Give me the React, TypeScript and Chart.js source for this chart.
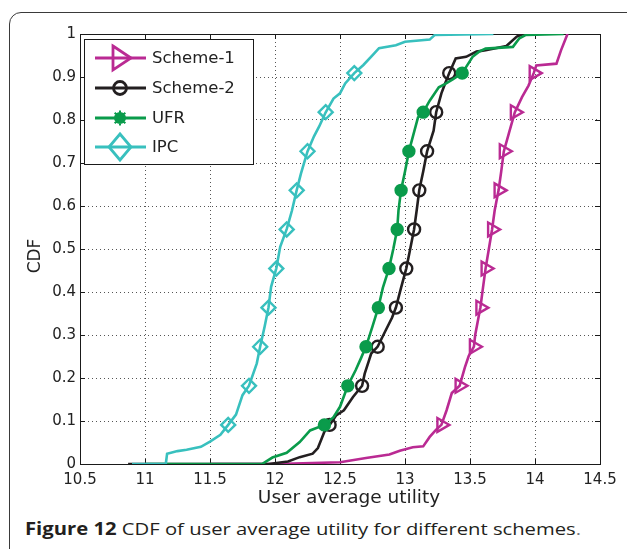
import React, { useEffect, useRef } from "react";
import { Chart, registerables } from "chart.js";

Chart.register(...registerables);

// ---------- data ----------
const xTicks = [10.5, 11, 11.5, 12, 12.5, 13, 13.5, 14, 14.5];
const yTicks = [0, 0.1, 0.2, 0.3, 0.4, 0.5, 0.6, 0.7, 0.8, 0.9, 1];

const legendNames = ["Scheme-1", "Scheme-2", "UFR", "IPC"];
const xTitle = "User average utility";
const yTitle = "CDF";

const scheme1Line: [number, number][] = [
  [11.5, 0], [12.0, 0], [12.5, 0.004], [12.7, 0.014], [12.88, 0.022], [12.96, 0.031],
  [13.06, 0.039], [13.14, 0.041], [13.19, 0.063], [13.24, 0.08], [13.28, 0.091],
  [13.32, 0.125], [13.36, 0.165], [13.42, 0.182], [13.46, 0.224], [13.49, 0.251],
  [13.53, 0.273], [13.54, 0.3], [13.57, 0.348], [13.58, 0.364], [13.6, 0.41],
  [13.62, 0.455], [13.645, 0.5], [13.67, 0.546], [13.69, 0.59], [13.72, 0.637],
  [13.74, 0.68], [13.76, 0.727], [13.8, 0.77], [13.845, 0.818], [13.9, 0.853],
  [13.95, 0.88], [13.99, 0.909], [14.01, 0.927], [14.165, 0.931], [14.2, 0.962],
  [14.25, 1.0],
];
const scheme1Marks: [number, number][] = [
  [13.28, 0.0909], [13.42, 0.1818], [13.53, 0.2727], [13.58, 0.3636], [13.62, 0.4545],
  [13.67, 0.5455], [13.72, 0.6364], [13.76, 0.7273], [13.845, 0.8182], [13.99, 0.9091],
];

const scheme2Line: [number, number][] = [
  [10.87, 0], [11.95, 0], [12.1, 0.006], [12.19, 0.016], [12.29, 0.024], [12.33, 0.037],
  [12.36, 0.06], [12.38, 0.075], [12.42, 0.091], [12.47, 0.113], [12.53, 0.125],
  [12.6, 0.156], [12.67, 0.182], [12.69, 0.21], [12.72, 0.238], [12.74, 0.257],
  [12.79, 0.273], [12.85, 0.31], [12.9, 0.34], [12.93, 0.364], [12.97, 0.41],
  [13.01, 0.455], [13.04, 0.5], [13.07, 0.546], [13.09, 0.59], [13.11, 0.637],
  [13.14, 0.68], [13.17, 0.727], [13.22, 0.775], [13.24, 0.818], [13.28, 0.862],
  [13.31, 0.886], [13.34, 0.909], [13.39, 0.943], [13.47, 0.947], [13.55, 0.959],
  [13.62, 0.962], [13.78, 0.972], [13.86, 0.994], [13.91, 1.0], [14.0, 1.0],
];
const scheme2Marks: [number, number][] = [
  [12.42, 0.0909], [12.67, 0.1818], [12.79, 0.2727], [12.93, 0.3636], [13.01, 0.4545],
  [13.07, 0.5455], [13.11, 0.6364], [13.17, 0.7273], [13.24, 0.8182], [13.34, 0.9091],
];

const ufrLine: [number, number][] = [
  [11.0, 0], [11.9, 0], [11.98, 0.015], [12.09, 0.026], [12.19, 0.051], [12.27, 0.078],
  [12.38, 0.091], [12.45, 0.109], [12.5, 0.133], [12.56, 0.182], [12.62, 0.218],
  [12.66, 0.245], [12.7, 0.273], [12.75, 0.32], [12.795, 0.364], [12.83, 0.41],
  [12.877, 0.455], [12.91, 0.5], [12.94, 0.546], [12.95, 0.59], [12.97, 0.637],
  [13.0, 0.68], [13.03, 0.727], [13.1, 0.806], [13.14, 0.818], [13.19, 0.845],
  [13.26, 0.876], [13.31, 0.884], [13.37, 0.895], [13.44, 0.909], [13.52, 0.947],
  [13.57, 0.959], [13.62, 0.966], [13.83, 0.97], [13.88, 0.99], [13.93, 0.998],
  [14.22, 1.0],
];
const ufrMarks: [number, number][] = [
  [12.38, 0.0909], [12.56, 0.1818], [12.7, 0.2727], [12.795, 0.3636], [12.877, 0.4545],
  [12.94, 0.5455], [12.97, 0.6364], [13.03, 0.7273], [13.14, 0.8182], [13.44, 0.9091],
];

const ipcLine: [number, number][] = [
  [10.9, 0], [11.16, 0], [11.17, 0.024], [11.25, 0.03], [11.32, 0.033], [11.43, 0.04],
  [11.5, 0.052], [11.58, 0.068], [11.64, 0.091], [11.7, 0.115], [11.75, 0.16],
  [11.8, 0.182], [11.86, 0.234], [11.886, 0.273], [11.92, 0.319], [11.95, 0.364],
  [11.97, 0.412], [12.01, 0.455], [12.04, 0.505], [12.09, 0.546], [12.13, 0.589],
  [12.167, 0.637], [12.2, 0.676], [12.25, 0.727], [12.3, 0.762], [12.34, 0.785],
  [12.39, 0.818], [12.45, 0.85], [12.5, 0.862], [12.54, 0.885], [12.61, 0.909],
  [12.68, 0.928], [12.76, 0.954], [12.8, 0.967], [12.93, 0.974], [13.0, 0.982],
  [13.19, 0.987], [13.23, 0.998], [13.68, 1.0],
];
const ipcMarks: [number, number][] = [
  [11.64, 0.0909], [11.8, 0.1818], [11.886, 0.2727], [11.95, 0.3636], [12.01, 0.4545],
  [12.09, 0.5455], [12.167, 0.6364], [12.25, 0.7273], [12.39, 0.8182], [12.61, 0.9091],
];

const MAGENTA = "#BA2A93";
const BLACK = "#231F20";
const GREEN = "#0A9B4B";
const CYAN = "#38C0BE";

const FONT = "'DejaVu Sans', Arial, sans-serif";

const toPts = (arr: [number, number][]) => arr.map(([x, y]) => ({ x, y }));

const fmt = (v: number) => String(Number(v.toFixed(1)));

function drawLegendMarker(ctx: CanvasRenderingContext2D, kind: string, x: number, y: number, color: string) {
  ctx.save();
  ctx.strokeStyle = color;
  ctx.fillStyle = color;
  ctx.lineWidth = 2.8;
  ctx.beginPath();
  if (kind === "tri") {
    ctx.moveTo(x - 7, y - 12);
    ctx.lineTo(x + 11, y);
    ctx.lineTo(x - 7, y + 12);
    ctx.closePath();
    ctx.stroke();
  } else if (kind === "circle") {
    ctx.arc(x, y, 6.5, 0, Math.PI * 2);
    ctx.stroke();
  } else if (kind === "star") {
    ctx.arc(x, y, 5, 0, Math.PI * 2);
    ctx.fill();
    ctx.lineWidth = 2;
    for (let i = 0; i < 8; i++) {
      const a = (i * Math.PI) / 4;
      ctx.moveTo(x, y);
      ctx.lineTo(x + Math.cos(a) * 7.5, y + Math.sin(a) * 7.5);
    }
    ctx.stroke();
  } else if (kind === "diamond") {
    ctx.moveTo(x, y - 13);
    ctx.lineTo(x + 11, y);
    ctx.lineTo(x, y + 13);
    ctx.lineTo(x - 11, y);
    ctx.closePath();
    ctx.stroke();
  }
  ctx.restore();
}

const framePlugin = {
  id: "matlabFrame",
  beforeDatasetsDraw(chart: any) {
    const { ctx, chartArea: a, scales } = chart;
    ctx.save();
    ctx.strokeStyle = "#1a1a1a";
    ctx.lineWidth = 1;
    ctx.strokeRect(Math.round(a.left) + 0.5, Math.round(a.top) + 0.5, Math.round(a.right - a.left), Math.round(a.bottom - a.top));
    ctx.beginPath();
    for (const t of xTicks) {
      const px = Math.round(scales.x.getPixelForValue(t)) + 0.5;
      ctx.moveTo(px, a.bottom);
      ctx.lineTo(px, a.bottom - 5);
      ctx.moveTo(px, a.top);
      ctx.lineTo(px, a.top + 5);
    }
    for (const t of yTicks) {
      const py = Math.round(scales.y.getPixelForValue(t)) + 0.5;
      ctx.moveTo(a.left, py);
      ctx.lineTo(a.left + 5, py);
      ctx.moveTo(a.right, py);
      ctx.lineTo(a.right - 5, py);
    }
    ctx.stroke();
    ctx.restore();
  },
  afterDraw(chart: any) {
    const { ctx, chartArea: a } = chart;
    ctx.save();
    ctx.fillStyle = "#222";
    ctx.font = `18.5px ${FONT}`;
    ctx.textAlign = "center";
    ctx.textBaseline = "alphabetic";
    ctx.fillText(xTitle, (a.left + a.right) / 2 + 9, 503);
    ctx.translate(40, (a.top + a.bottom) / 2 + 7);
    ctx.rotate(-Math.PI / 2);
    ctx.font = `17px ${FONT}`;
    ctx.fillText(yTitle, 0, 0);
    ctx.restore();
  },
};

const legendPlugin = {
  id: "insideLegend",
  afterDraw(chart: any) {
    const { ctx } = chart;
    const colors = [MAGENTA, BLACK, GREEN, CYAN];
    const kinds = ["tri", "circle", "star", "diamond"];
    const rows = [58, 88, 118, 147];
    ctx.save();
    ctx.fillStyle = "#ffffff";
    ctx.fillRect(84.5, 39.5, 169, 125);
    ctx.strokeStyle = "#1a1a1a";
    ctx.lineWidth = 1;
    ctx.strokeRect(84.5, 39.5, 169, 125);
    legendNames.forEach((name, i) => {
      const y = rows[i];
      ctx.strokeStyle = colors[i];
      ctx.lineWidth = 3;
      ctx.beginPath();
      ctx.moveTo(95, y);
      ctx.lineTo(146, y);
      ctx.stroke();
      drawLegendMarker(ctx, kinds[i], 120, y, colors[i]);
      ctx.fillStyle = "#222";
      ctx.font = `16.5px ${FONT}`;
      ctx.textBaseline = "middle";
      ctx.textAlign = "left";
      ctx.fillText(name, 152, y + 1);
    });
    ctx.restore();
  },
};

function lineDs(points: [number, number][], color: string) {
  return {
    data: toPts(points),
    showLine: true,
    borderColor: color,
    borderWidth: 2.6,
    pointRadius: 0,
    tension: 0,
    fill: false,
  };
}

function markDs(points: [number, number][], color: string, style: string, radius: number, filled: boolean, rotation = 0) {
  return {
    data: toPts(points),
    showLine: false,
    pointStyle: style,
    pointRadius: radius,
    pointRotation: rotation,
    pointBorderWidth: 2.4,
    pointBorderColor: color,
    pointBackgroundColor: filled ? color : "rgba(0,0,0,0)",
  };
}

export default function App() {
  const ref = useRef<HTMLCanvasElement | null>(null);

  useEffect(() => {
    if (!ref.current) return;
    const chart = new Chart(ref.current, {
      type: "scatter",
      data: {
        datasets: [
          markDs(ipcMarks, CYAN, "rectRot", 7, false),
          lineDs(ipcLine, CYAN),
          markDs(ufrMarks, GREEN, "circle", 5.5, true),
          lineDs(ufrLine, GREEN),
          markDs(scheme2Marks, BLACK, "circle", 6, false),
          lineDs(scheme2Line, BLACK),
          markDs(scheme1Marks, MAGENTA, "triangle", 8, false, 90),
          lineDs(scheme1Line, MAGENTA),
        ] as any,
      },
      options: {
        responsive: false,
        animation: false,
        devicePixelRatio: 1,
        layout: { padding: { left: 0, right: 27, top: 34, bottom: 0 } },
        plugins: { legend: { display: false }, tooltip: { enabled: false } },
        scales: {
          x: {
            type: "linear",
            min: 10.5,
            max: 14.5,
            afterBuildTicks: (s: any) => {
              s.ticks = xTicks.map((v) => ({ value: v }));
            },
            afterFit: (s: any) => {
              s.height = 46;
            },
            ticks: {
              autoSkip: false,
              maxRotation: 0,
              padding: 7,
              color: "#222",
              font: { family: FONT, size: 15 },
              callback: (v: any) => fmt(Number(v)),
            },
            grid: { color: "#555", lineWidth: 1, drawTicks: false },
            border: { display: false, dash: [1, 3] },
            title: { display: false },
          },
          y: {
            type: "linear",
            min: 0,
            max: 1,
            afterBuildTicks: (s: any) => {
              s.ticks = yTicks.map((v) => ({ value: v }));
            },
            afterFit: (s: any) => {
              s.width = 80;
            },
            ticks: {
              autoSkip: false,
              padding: 4,
              color: "#222",
              font: { family: FONT, size: 15 },
              callback: (v: any) => fmt(Number(v)),
            },
            grid: { color: "#555", lineWidth: 1, drawTicks: false },
            border: { display: false, dash: [1, 3] },
            title: { display: false },
          },
        },
      } as any,
      plugins: [framePlugin, legendPlugin],
    });
    return () => chart.destroy();
  }, []);

  return (
    <div style={{ position: "fixed", left: 0, top: 0, width: 627, height: 549, overflow: "hidden", background: "#fff" }}>
      <div
        style={{
          position: "absolute",
          left: 9,
          top: 12,
          width: 700,
          height: 600,
          border: "1.5px solid #3a3a3a",
          borderRadius: 12,
          boxSizing: "border-box",
        }}
      />
      <canvas ref={ref} width={627} height={510} style={{ position: "absolute", left: 0, top: 0, width: 627, height: 510 }} />
      <div
        style={{
          position: "absolute",
          left: 25,
          top: 518,
          fontFamily: "'Open Sans', 'Noto Sans', sans-serif",
          fontSize: 17,
          color: "#231F20",
          whiteSpace: "nowrap",
          lineHeight: "22px",
          transform: "scaleX(1.19)",
          transformOrigin: "0 0",
        }}
      >
        <span style={{ fontWeight: 700 }}>Figure 12</span> CDF of user average utility for different schemes
        <span style={{ color: "#777" }}>.</span>
      </div>
    </div>
  );
}
